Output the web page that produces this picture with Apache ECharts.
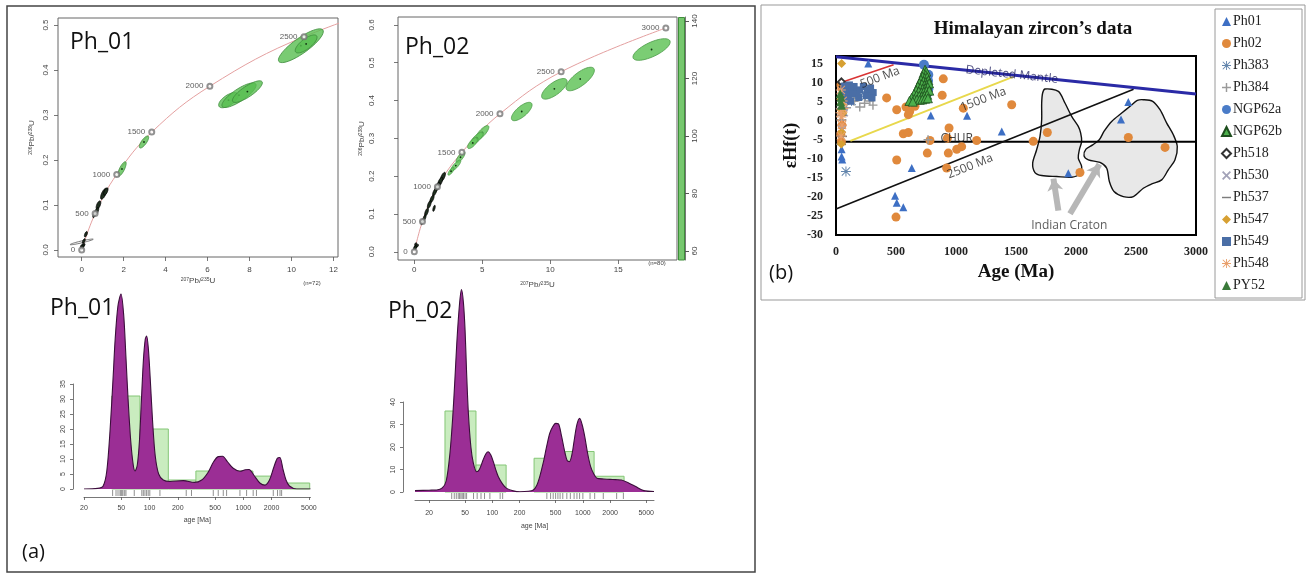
<!DOCTYPE html>
<html>
<head>
<meta charset="utf-8">
<script src="https://cdn.jsdelivr.net/npm/echarts@6/dist/echarts.min.js"></script>
<style>
html,body{margin:0;padding:0;background:#fff}
#c{width:1308px;height:576px}
</style>
</head>
<body>
<div id="c"></div>
<script>
// ---------------- U-Pb concordia diagrams ----------------
// concordia reference ages: [207Pb/235U, 206Pb/238U, age Ma]
const concordia01 = [[0,0,0],[0.64,0.081,500],[1.67,0.168,1000],[3.34,0.262,1500],[6.11,0.364,2000],[10.6,0.474,2500],[18.0,0.593,3000]];
const concordia02 = [[0,0,0],[0.6,0.08,500],[1.7,0.172,1000],[3.5,0.263,1500],[6.3,0.365,2000],[10.8,0.476,2500],[18.5,0.592,3000]];

// error ellipses: [x, y, major half-axis dx, major half-axis dy, minor/major ratio]
const ellipses01Green = [[10.45,0.454,1.05,0.035,0.28],[10.7,0.458,0.5,0.018,0.38],[7.0,0.333,0.45,0.014,0.45],[7.5,0.344,0.8,0.025,0.3],[7.9,0.352,0.7,0.022,0.3],[2.97,0.240,0.2,0.013,0.35],[1.92,0.18,0.17,0.016,0.3]];
const ellipses01Dark = [[1.05,0.125,0.12,0.012,0.35],[1.15,0.13,0.08,0.008,0.4],[0.8,0.1,0.08,0.009,0.4],[0.7,0.085,0.09,0.009,0.35],[0.6,0.078,0.05,0.006,0.4],[0.2,0.035,0.05,0.006,0.4],[0.1,0.02,0.05,0.005,0.4],[0.05,0.01,0.1,0.004,0.5],[0.05,0.008,0.06,0.003,0.6],[0.02,0.004,0.05,0.003,0.6]];
const ellipses01Wide = [[0.0,0.018,0.55,0.006,0.08]];
const ellipses02Green = [[17.45,0.535,1.35,0.023,0.35],[12.2,0.457,1.0,0.028,0.38],[10.3,0.431,0.9,0.024,0.4],[7.9,0.371,0.72,0.022,0.4],[5.0,0.315,0.45,0.018,0.35],[4.6,0.3,0.45,0.016,0.35],[4.3,0.288,0.35,0.014,0.4],[3.4,0.25,0.3,0.014,0.35],[3.05,0.228,0.35,0.014,0.3],[2.7,0.213,0.2,0.01,0.35]];
const ellipses02Dark = [[2.1,0.198,0.15,0.012,0.35],[1.9,0.185,0.15,0.012,0.35],[1.7,0.172,0.15,0.012,0.35],[1.5,0.158,0.12,0.01,0.35],[1.3,0.14,0.12,0.01,0.35],[1.1,0.125,0.1,0.01,0.35],[0.9,0.105,0.1,0.01,0.35],[0.75,0.09,0.08,0.008,0.35],[0.6,0.08,0.08,0.008,0.4],[1.45,0.115,0.06,0.008,0.3],[0.15,0.015,0.15,0.004,0.5],[0.05,0.01,0.08,0.006,0.5],[0.1,0.02,0.05,0.004,0.5]];

const conc01XTicks = [0,2,4,6,8,10,12];
const conc01YTicks = [0,0.1,0.2,0.3,0.4,0.5];
const conc02XTicks = [0,5,10,15];
const conc02YTicks = [0,0.1,0.2,0.3,0.4,0.5,0.6];
const colourBarRange = [56.9,141.4];
const colourBarTicks = [60,80,100,120,140];

// ---------------- detrital age spectra ----------------
// histogram bins: [from Ma, to Ma, count]
const hist01 = [[39.5,79,31],[79,158.5,20],[158.5,312,3],[312,636,6],[636,1265,6],[1265,2540,4.3],[2540,5100,2]];
const hist02 = [[30,66,36],[66,142,12],[289,637,15],[637,1330,18],[1330,2850,7]];
// kernel density estimate: [age Ma, density in count units]
const kde01 = [[20,0],[28,0.2],[32,1],[35,6],[38,20],[41,38],[43,50],[46,61],[49.6,65],[53,58],[56,44],[59,30],[63,16],[67,8],[70,6],[74,8],[78,16],[82,30],[86,43],[90,50],[93,51],[97,47],[102,36],[108,22],[115,11],[125,5],[140,3],[165,2.5],[229,2.8],[300,2.2],[360,3],[420,5.5],[480,9],[540,10.8],[600,10.9],[680,9],[780,6.9],[920,5.9],[1050,6.4],[1150,6.5],[1300,4.5],[1500,2],[1700,1.3],[1900,3],[2100,7],[2300,10.2],[2450,10.5],[2650,6.5],[2850,3],[3100,1],[3700,0],[5200,0]];
const kde02 = [[14,0.6],[20,0.8],[24.3,0.9],[28,1.8],[31,5],[34,17],[36.5,33],[38.6,50],[40.5,66],[42,76],[44,86],[45.7,90],[48,84],[50,72],[52,53],[54.4,35],[58,20],[61.8,12.7],[67,9],[72,10],[79,14.2],[85,17],[90,17.9],[96,16.5],[102.5,13.5],[110,9.5],[116.5,6.8],[130,3.5],[144,1.6],[170,0.5],[202,0.1],[250,0.3],[284,0.9],[310,3],[334,6.8],[365,13],[397,20],[430,26],[464,29],[500,30.5],[537,30.3],[580,25],[636,17.2],[670,14],[710,13.5],[760,17],[802,23],[860,30],[922,32.7],[980,30],[1049,24.6],[1130,17],[1218,11.3],[1320,8],[1430,6.1],[1700,5.8],[1986,5.6],[2300,5.5],[2668,5.3],[3200,4],[3830,2.4],[4705,0.6],[6100,0.2]];
// individual grain ages (rug)
const rug01 = [40.4,43.9,46.1,48.4,49.6,50.8,52.1,54.3,56,68.7,82.7,85.8,89.3,93,96.7,100.6,129,246,280,478,540,611,663,920,1083,1273,1380,2085,2314,2460,2560];
const rug02 = [35.6,38,40,42,43.5,45,46.5,48,50,52,62,68,75,82,94,122,130,400,440,470,500,530,560,600,665,727,800,860,920,1000,1200,1350,1680,2360,2800];
const ageTicks = [20,50,100,200,500,1000,2000,5000];
const hist01YTicks = [0,5,10,15,20,25,30,35];
const hist02YTicks = [0,10,20,30,40];

// ---------------- Hf isotope evolution ----------------
// [age Ma, epsilon Hf(t)]
const hfPh01 = [[47,-7.5],[47,-9.4],[52,-10.2],[269,15.0],[790,1.4],[1092,1.3],[1381,-2.8],[631,-12.4],[492,-19.7],[506,-21.5],[561,-22.7],[1936,-13.8],[2375,0.3],[2436,4.9]];
const hfPh02 = [[42,9.5],[48,8.6],[422,6.0],[506,2.9],[583,3.6],[603,1.6],[614,2.4],[658,3.8],[894,11.0],[885,6.7],[506,-10.3],[561,-3.4],[603,-3.1],[783,-5.2],[942,-1.9],[928,-4.6],[761,-8.5],[936,-8.5],[1047,-6.8],[1006,-7.5],[922,-12.4],[1172,-5.2],[1061,3.3],[1464,4.2],[1644,-5.4],[1761,-3.1],[2033,-13.6],[2436,-4.4],[2742,-7.0],[500,-25.3],[45,-5.5],[40,-3.5],[50,-1.2]];
const hfPh383 = [[83,-13.3],[95,7.5],[125,8.2],[160,6.2],[205,7.6],[245,6.4],[290,7.2],[130,5.2],[60,6]];
const hfPh384 = [[62,4.2],[88,3.4],[150,5.1],[198,3.6],[238,4.6],[282,5.2],[308,4.1],[767,-5.0]];
const hfNGP62a = [[733,14.7],[769,12.1],[767,10.5],[769,8.3],[758,7.1]];
const hfNGP62b = [[742,13.4],[752,12.9],[730,12.5],[748,12.0],[722,11.6],[740,11.2],[760,11.4],[708,10.8],[728,10.4],[750,10.2],[770,10.6],[695,9.9],[716,9.6],[737,9.3],[758,9.5],[776,9.8],[682,9.0],[702,8.6],[724,8.4],[745,8.5],[765,8.8],[668,8.0],[690,7.7],[712,7.4],[733,7.6],[755,7.8],[777,7.9],[650,7.0],[672,6.7],[694,6.5],[716,6.4],[738,6.6],[760,6.8],[630,6.0],[652,5.7],[675,5.6],[698,5.5],[720,5.6],[744,5.8],[766,5.9],[612,5.2],[640,5.0]];
const hfPh518 = [[61,8.9],[45,10.2]];
const hfPh530 = [[55,6.2],[70,2.1],[50,-2.2]];
const hfPh537 = [[40,3.2],[45,0.2],[50,-4.1],[42,-6.2],[48,1.4]];
const hfPh547 = [[47,15.0],[40,5.6],[46,4.4],[51,6.2],[42,2.8],[48,-3.0],[44,-6.1],[56,2.0]];
const hfPh549 = [[70,9.1],[92,8.2],[112,9.4],[132,8.6],[151,9.0],[172,7.6],[198,8.1],[228,9.0],[262,8.0],[288,8.6],[310,7.4],[102,6.6],[141,7.1],[190,6.1],[252,6.6],[300,6.0],[82,5.6],[121,5.1],[62,7.6]];
const hfPh548 = [[40,8.1],[45,1.0],[50,-1.1],[42,-4.0],[55,5.2],[38,2.1],[60,3.2]];
const hfPY52 = [[35,7.1],[41,6.2],[46,4.1],[38,5.0]];

// reference evolution lines
const depletedMantle = [[0,16.8],[3000,7.0]];
const churLine = [[0,-5.5],[3000,-5.5]];
const line500 = [[30,9.9],[480,14.7]];
const line1500 = [[120,-5.3],[1480,11.6]];
const line2500 = [[0,-23.2],[2480,8.3]];
// Indian craton fields
const cratonWest = [[1742,8.33],[1853,7.72],[1908,4.65],[1964,1.14],[2019,-1.49],[2039,-3.25],[2047,-5.44],[2028,-7.63],[2019,-9.82],[2047,-12.02],[2033,-13.95],[1964,-14.82],[1839,-14.65],[1714,-14.39],[1658,-13.6],[1639,-11.14],[1672,-7.63],[1700,-4.12],[1714,0.26],[1714,4.65],[1722,7.28]];
const cratonEast = [[2561,5.53],[2639,5.09],[2700,2.89],[2756,-0.61],[2811,-3.68],[2844,-6.75],[2825,-10.26],[2769,-12.89],[2714,-15.53],[2631,-16.58],[2561,-17.72],[2478,-19.91],[2394,-19.91],[2317,-18.6],[2278,-15.96],[2256,-12.46],[2200,-10.96],[2103,-10.26],[2067,-9.21],[2083,-7.46],[2139,-6.32],[2194,-5.0],[2233,-2.81],[2297,-0.18],[2381,2.02],[2456,3.95],[2511,5.35]];
const cratonArrows = [[[1853,-23.6],[1812,-15.2]],[[1950,-24.4],[2195,-11.4]]];
// annotations: [text, age, eHf]
const hfNotes = [['Depleted Mantle',1465,12.1],['500 Ma',367,11.3],['1500 Ma',1228,5.6],['2500 Ma',1117,-12.0],['CHUR',1006,-4.7],['Indian Craton',1944,-27.4]];
const hfXTicksInterval = 500;
const hfYTicksInterval = 5;

// ---------------- drawing ----------------
const SANS = 'Liberation Sans';
const SERIF = 'Liberation Serif';
const noteTilt = [-6, 21, 21, 22, 0, 0];
const noteColor = ['#1d1d5e', '#222', '#222', '#222', '#111', '#333'];
const plain = v => String(v);

function ellipseSeries(gi, data, fill, stroke, dot, z) {
  return {
    type: 'custom', xAxisIndex: gi, yAxisIndex: gi, clip: true, z: z || 4, data,
    encode: { x: 0, y: 1 },
    renderItem(params, api) {
      const cx = api.value(0), cy = api.value(1);
      const c = api.coord([cx, cy]);
      const e = api.coord([cx + api.value(2), cy + api.value(3)]);
      const ux = e[0] - c[0], uy = e[1] - c[1];
      const a = Math.hypot(ux, uy) || 1;
      const b = a * api.value(4);
      const vx = -uy / a, vy = ux / a;
      const pts = [];
      for (let i = 0; i < 48; i++) {
        const t = i / 48 * 2 * Math.PI;
        pts.push([c[0] + Math.cos(t) * ux + Math.sin(t) * b * vx,
                  c[1] + Math.cos(t) * uy + Math.sin(t) * b * vy]);
      }
      const kids = [{ type: 'polygon', shape: { points: pts }, style: { fill, stroke, lineWidth: 0.8 } }];
      if (dot) kids.push({ type: 'circle', shape: { cx: c[0], cy: c[1], r: 0.9 }, style: { fill: '#123312' } });
      return { type: 'group', children: kids };
    }
  };
}

function histSeries(gi, data) {
  return {
    type: 'custom', xAxisIndex: gi, yAxisIndex: gi, z: 1, data,
    encode: { x: [0, 1], y: 2 },
    renderItem(params, api) {
      const a = api.coord([api.value(0), 0]);
      const b = api.coord([api.value(1), api.value(2)]);
      return { type: 'rect', shape: { x: a[0], y: b[1], width: b[0] - a[0], height: a[1] - b[1] },
               style: { fill: '#c9ecbf', stroke: '#84c676', lineWidth: 1 } };
    }
  };
}

function rugSeries(gi, ages) {
  return {
    type: 'custom', xAxisIndex: gi, yAxisIndex: gi, z: 3, clip: false,
    data: ages.map(a => [a, 0]), encode: { x: 0, y: 1 },
    renderItem(params, api) {
      const p = api.coord([api.value(0), 0]);
      return { type: 'line', shape: { x1: p[0], y1: p[1] + 1, x2: p[0], y2: p[1] + 7 },
               style: { stroke: '#444', lineWidth: 0.6 } };
    }
  };
}

function kdeSeries(gi, data) {
  return {
    type: 'line', xAxisIndex: gi, yAxisIndex: gi, z: 2, data, smooth: 0.3, symbol: 'none',
    lineStyle: { color: '#3b0e3b', width: 1.1 },
    areaStyle: { color: '#9b2e95', opacity: 1 }
  };
}

function concordiaSeries(gi, data, showLast) {
  return [
    { type: 'line', xAxisIndex: gi, yAxisIndex: gi, data: data.map(d => [d[0], d[1]]), smooth: 0.4,
      symbol: 'none', z: 2, lineStyle: { color: '#e4a0a0', width: 1 } },
    { type: 'scatter', xAxisIndex: gi, yAxisIndex: gi, z: 6,
      data: (showLast ? data : data.slice(0, -1)), symbol: 'emptyCircle', symbolSize: 5,
      itemStyle: { color: '#777', borderWidth: 0.8 },
      label: { show: true, position: 'left', distance: 3, fontSize: 8, color: '#333', fontFamily: SANS,
               formatter: p => String(p.value[2]) } }
  ];
}

function rAxis(gi, min, max, ticks, opts) {
  return Object.assign({
    gridIndex: gi, type: 'value', min, max,
    axisLine: { show: false, onZero: false },
    axisTick: { show: true, length: 4, customValues: ticks, lineStyle: { color: '#555', width: 0.8 } },
    axisLabel: { customValues: ticks, fontSize: 8, color: '#444', fontFamily: SANS },
    splitLine: { show: false }
  }, opts);
}

function logAgeAxis(gi, min, max, visible, margin, nameGap) {
  return {
    gridIndex: gi, type: 'log', logBase: 10, min, max, show: visible, offset: 8,
    axisLine: { show: true, onZero: false, lineStyle: { color: '#555', width: 0.8 } },
    axisTick: { show: true, length: 3, customValues: ageTicks, lineStyle: { color: '#555', width: 0.8 } },
    axisLabel: { customValues: ageTicks, fontSize: 7, color: '#444', margin, fontFamily: SANS, formatter: plain },
    splitLine: { show: false }, minorTick: { show: false },
    name: 'age [Ma]', nameLocation: 'middle', nameGap,
    nameTextStyle: { fontSize: 7, color: '#444', fontFamily: SANS }
  };
}

function countAxis(gi, max, ticks, offset) {
  return {
    gridIndex: gi, type: 'value', min: 0, max, offset,
    axisLine: { show: true, onZero: false, lineStyle: { color: '#555', width: 0.8 } },
    axisTick: { show: true, length: 3, customValues: ticks, lineStyle: { color: '#555', width: 0.8 } },
    axisLabel: { customValues: ticks, rotate: 90, fontSize: 7, color: '#444', margin: 6, fontFamily: SANS },
    splitLine: { show: false }
  };
}

const hiddenValue = (gi, min, max) => ({ gridIndex: gi, type: 'value', min, max, show: false, splitLine: { show: false } });

const ratioName = (a, b) => `{s|${a}}Pb/{s|${b}}U`;
const ratioStyle = { fontSize: 8, color: '#444', fontFamily: SANS, rich: { s: { fontSize: 5, verticalAlign: 'top', color: '#444' } } };

const starPath = 'path://M4.5,0H5.5V4.5H10V5.5H5.5V10H4.5V5.5H0V4.5H4.5Z M1.2,0.5L5,4.3L8.8,0.5L9.5,1.2L5.7,5L9.5,8.8L8.8,9.5L5,5.7L1.2,9.5L0.5,8.8L4.3,5L0.5,1.2Z';
const sampleStyles = [
  ['Ph01', hfPh01, 'triangle', 8, { color: '#3d6fc4' }],
  ['Ph02', hfPh02, 'circle', 9, { color: '#e0893c' }],
  ['Ph383', hfPh383, starPath, 10, { color: '#6486ad' }],
  ['Ph384', hfPh384, 'path://M4.2,0H5.8V4.2H10V5.8H5.8V10H4.2V5.8H0V4.2H4.2Z', 9, { color: '#9a9a9a' }],
  ['NGP62a', hfNGP62a, 'circle', 10, { color: '#4a7cc8' }],
  ['NGP62b', hfNGP62b, 'triangle', 9, { color: '#4cb04c', borderColor: '#1d4d1d', borderWidth: 0.8 }],
  ['Ph518', hfPh518, 'emptyDiamond', 7, { color: '#333', borderWidth: 1 }],
  ['Ph530', hfPh530, 'path://M1.4,0L5,3.6L8.6,0L10,1.4L6.4,5L10,8.6L8.6,10L5,6.4L1.4,10L0,8.6L3.6,5L0,1.4Z', 8, { color: '#a3a3b8' }],
  ['Ph537', hfPh537, 'path://M0,0M0,4.2H10V5.8H0ZM10,10', 10, { color: '#7d7d7d' }],
  ['Ph547', hfPh547, 'diamond', 9, { color: '#d7a032' }],
  ['Ph549', hfPh549, 'rect', 7, { color: '#4a6ea6' }],
  ['Ph548', hfPh548, starPath, 10, { color: '#e9a06c' }],
  ['PY52', hfPY52, 'triangle', 9, { color: '#3a7a3a' }]
];

function blobSeries(points) {
  return {
    type: 'custom', xAxisIndex: 7, yAxisIndex: 7, z: 1, data: [points[0]], encode: { x: 0, y: 1 },
    renderItem(params, api) {
      return { type: 'polygon', shape: { points: points.map(p => api.coord(p)), smooth: 0.3 },
               style: { fill: '#e8e8e8', stroke: '#111', lineWidth: 1.4 } };
    }
  };
}

const refLine = (data, color, width) => ({
  type: 'line', xAxisIndex: 7, yAxisIndex: 7, data, symbol: 'none', z: 2,
  lineStyle: { color, width }
});

const option = {
  animation: false,
  backgroundColor: '#fff',
  grid: [
    { left: 58, top: 18, width: 280, height: 239, show: true, borderColor: '#666', borderWidth: 1, backgroundColor: 'transparent' },
    { left: 398, top: 17, width: 279, height: 243, show: true, borderColor: '#666', borderWidth: 1, backgroundColor: 'transparent' },
    { left: 678, top: 17, width: 7, height: 243 },
    { left: 84, top: 384, width: 226.5, height: 105 },
    { left: 84, top: 279, width: 226.5, height: 210 },
    { left: 415, top: 402, width: 239, height: 90 },
    { left: 415, top: 280, width: 239, height: 212 },
    { left: 836, top: 56, width: 360, height: 179, show: true, borderColor: '#000', borderWidth: 2, backgroundColor: 'transparent' }
  ],
  xAxis: [
    rAxis(0, -1.13, 12.22, conc01XTicks, { axisLabel: { customValues: conc01XTicks, fontSize: 8, color: '#444', margin: 9, fontFamily: SANS },
      name: ratioName(207, 235), nameLocation: 'middle', nameGap: 20, nameTextStyle: ratioStyle }),
    rAxis(1, -1.2, 19.32, conc02XTicks, { axisLabel: { customValues: conc02XTicks, fontSize: 8, color: '#444', margin: 6, fontFamily: SANS },
      name: ratioName(207, 235), nameLocation: 'middle', nameGap: 21, nameTextStyle: ratioStyle }),
    { gridIndex: 2, type: 'category', data: ['c'], show: false },
    logAgeAxis(3, 20, 5200, true, 8, 20),
    logAgeAxis(4, 20, 5200, false, 8, 20),
    logAgeAxis(5, 14, 6100, true, 10, 23),
    logAgeAxis(6, 14, 6100, false, 10, 23),
    { gridIndex: 7, type: 'value', min: 0, max: 3000, interval: hfXTicksInterval,
      axisLine: { show: false, onZero: false }, axisTick: { show: false }, splitLine: { show: false },
      axisLabel: { fontSize: 12, fontWeight: 'bold', color: '#222', fontFamily: SERIF, margin: 11, formatter: plain },
      name: 'Age (Ma)', nameLocation: 'middle', nameGap: 28,
      nameTextStyle: { fontSize: 19, fontWeight: 'bold', color: '#111', fontFamily: SERIF } }
  ],
  yAxis: [
    rAxis(0, -0.0156, 0.5156, conc01YTicks, { axisLabel: { customValues: conc01YTicks, rotate: 90, fontSize: 8, color: '#444', margin: 8, fontFamily: SANS, formatter: v => Number(v).toFixed(1) },
      name: ratioName(206, 238), nameLocation: 'middle', nameGap: 22, nameRotate: 90, nameTextStyle: ratioStyle }),
    rAxis(1, -0.0217, 0.621, conc02YTicks, { axisLabel: { customValues: conc02YTicks, rotate: 90, fontSize: 8, color: '#444', margin: 22, fontFamily: SANS, formatter: v => Number(v).toFixed(1) },
      name: ratioName(206, 238), nameLocation: 'middle', nameGap: 32, nameRotate: 90, nameTextStyle: ratioStyle }),
    { gridIndex: 2, type: 'value', position: 'right', min: colourBarRange[0], max: colourBarRange[1],
      axisLine: { show: true, onZero: false, lineStyle: { color: '#555', width: 0.8 } },
      axisTick: { show: true, length: 4, customValues: colourBarTicks, lineStyle: { color: '#555' } },
      axisLabel: { customValues: colourBarTicks, rotate: 90, fontSize: 8, color: '#444', margin: 6, fontFamily: SANS },
      splitLine: { show: false } },
    countAxis(3, 35, hist01YTicks, 11),
    hiddenValue(4, 0, 70),
    countAxis(5, 40, hist02YTicks, 12),
    hiddenValue(6, 0, 94.2),
    { gridIndex: 7, type: 'value', min: -30, max: 17, interval: hfYTicksInterval,
      axisLine: { show: false, onZero: false }, axisTick: { show: false }, splitLine: { show: false },
      axisLabel: { fontSize: 12, fontWeight: 'bold', color: '#222', fontFamily: SERIF, margin: 13 },
      name: 'εHf(t)', nameLocation: 'middle', nameGap: 36, nameRotate: 90,
      nameTextStyle: { fontSize: 18, fontWeight: 'bold', color: '#111', fontFamily: SERIF } }
  ],
  legend: {
    orient: 'vertical', left: 1215, top: 9, selectedMode: false,
    backgroundColor: '#fff', borderColor: '#9a9a9a', borderWidth: 1,
    padding: [5, 20, 5, 6], itemGap: 7, itemWidth: 9, itemHeight: 9,
    textStyle: { fontFamily: SERIF, fontSize: 14, color: '#222', padding: [0, 0, 0, -3], lineHeight: 15 },
    data: sampleStyles.map(s => ({ name: s[0], icon: s[2] }))
  },
  series: [
    // Ph_01 concordia
    ...concordiaSeries(0, concordia01, false),
    ellipseSeries(0, ellipses01Wide, 'rgba(255,255,255,0)', '#555', false, 3),
    ellipseSeries(0, ellipses01Dark, '#1f2f1f', '#000', false, 4),
    ellipseSeries(0, ellipses01Green, 'rgba(88,190,80,0.8)', '#3f8c3c', true, 5),
    // Ph_02 concordia
    ...concordiaSeries(1, concordia02, true),
    ellipseSeries(1, ellipses02Dark, '#1f2f1f', '#000', false, 4),
    ellipseSeries(1, ellipses02Green, 'rgba(100,196,92,0.85)', '#4b9b47', true, 5),
    // colour bar
    { type: 'bar', xAxisIndex: 2, yAxisIndex: 2, data: [colourBarRange[1]], barWidth: '100%',
      itemStyle: { color: '#76c76e', borderColor: '#3f8e3b', borderWidth: 1 } },
    // age spectra
    histSeries(3, hist01), kdeSeries(4, kde01), rugSeries(3, rug01),
    histSeries(5, hist02), kdeSeries(6, kde02), rugSeries(5, rug02),
    // Hf evolution diagram
    blobSeries(cratonWest), blobSeries(cratonEast),
    { type: 'lines', coordinateSystem: 'cartesian2d', xAxisIndex: 7, yAxisIndex: 7, z: 2,
      data: cratonArrows.map(a => ({ coords: a })), symbol: ['none', 'arrow'], symbolSize: [0, 12],
      lineStyle: { color: '#b7b7b7', width: 6, opacity: 1 } },
    refLine(churLine, '#000', 2),
    refLine(line2500, '#111', 1.6),
    refLine(line1500, '#e8d84c', 2),
    refLine(line500, '#d93434', 1.6),
    refLine(depletedMantle, '#2a2aa6', 3),
    ...sampleStyles.map(s => ({
      type: 'scatter', name: s[0], xAxisIndex: 7, yAxisIndex: 7, z: 5, data: s[1],
      symbol: s[2], symbolSize: s[3], itemStyle: Object.assign({ opacity: 1 }, s[4])
    })),
    { type: 'scatter', xAxisIndex: 7, yAxisIndex: 7, z: 7, symbolSize: 0, silent: true,
      data: hfNotes.map((n, i) => ({
        value: [n[1], n[2]],
        label: { show: true, position: 'inside', formatter: n[0], rotate: noteTilt[i], color: noteColor[i],
                 fontSize: 12, fontFamily: 'Open Sans' }
      })) }
  ],
  graphic: [
    { type: 'rect', shape: { x: 7, y: 6, width: 748, height: 566 }, style: { fill: 'none', stroke: '#444', lineWidth: 1.5 }, z: 0 },
    { type: 'rect', shape: { x: 761, y: 5, width: 544, height: 295 }, style: { fill: 'none', stroke: '#999', lineWidth: 1 }, z: 0 },
    { type: 'text', x: 70, y: 42, style: { text: 'Ph_01', font: '23px "Open Sans"', fill: '#111', verticalAlign: 'middle' } },
    { type: 'text', x: 405, y: 47, style: { text: 'Ph_02', font: '23px "Open Sans"', fill: '#111', verticalAlign: 'middle' } },
    { type: 'text', x: 50, y: 308, style: { text: 'Ph_01', font: '23px "Open Sans"', fill: '#111', verticalAlign: 'middle' } },
    { type: 'text', x: 388, y: 311, style: { text: 'Ph_02', font: '23px "Open Sans"', fill: '#111', verticalAlign: 'middle' } },
    { type: 'text', x: 312, y: 283, style: { text: '(n=72)', font: '6px "Liberation Sans"', fill: '#444', align: 'center', verticalAlign: 'middle' } },
    { type: 'text', x: 657, y: 263, style: { text: '(n=80)', font: '6px "Liberation Sans"', fill: '#444', align: 'center', verticalAlign: 'middle' } },
    { type: 'text', x: 22, y: 552, style: { text: '(a)', font: '20px "Open Sans"', fill: '#111', verticalAlign: 'middle' } },
    { type: 'text', x: 769, y: 273, style: { text: '(b)', font: '20px "Open Sans"', fill: '#111', verticalAlign: 'middle' } },
    { type: 'text', x: 1033, y: 29, style: { text: 'Himalayan zircon’s data', font: 'bold 19px "Liberation Serif"', fill: '#111', align: 'center', verticalAlign: 'middle' } }
  ]
};

const chart = echarts.init(document.getElementById('c'));
chart.setOption(option);
</script>
</body>
</html>
